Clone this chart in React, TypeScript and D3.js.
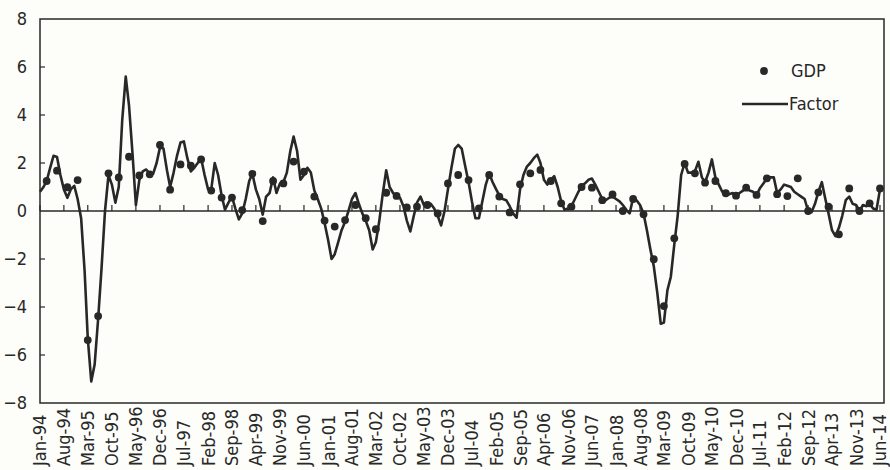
import React, { useEffect } from 'react';
import * as d3 from 'd3';

// monthly factor, Jan-94 .. Jun-14
const factor = [
  0.8, 1.0, 1.25, 1.8, 2.3, 2.25, 1.5, 0.9, 0.55, 0.9, 1.05, 0.5,
  -0.3, -2.5, -5.3, -7.1, -6.4, -4.5, -2.4, 0.0, 1.5, 1.1, 0.35, 1.0,
  3.8, 5.6, 4.4, 2.4, 0.25, 1.3, 1.65, 1.73, 1.55, 1.55, 2.0, 2.65,
  2.6, 1.7, 1.0, 1.6, 2.3, 2.85, 2.9, 2.2, 1.65, 1.8, 2.0, 2.2,
  1.5, 0.9, 0.9, 2.0, 1.5, 0.65, 0.05, 0.35, 0.6, 0.1, -0.35, -0.1,
  0.5, 1.25, 1.55, 0.9, 0.5, -0.15, 0.6, 0.75, 1.4, 0.75, 1.15, 1.2,
  1.6, 2.5, 3.1, 2.5, 1.3, 1.5, 1.8, 1.6, 0.85, 0.5, 0.1, -0.5,
  -1.2, -2.0, -1.8, -1.3, -0.8, -0.45, 0.0, 0.5, 0.75, 0.3, -0.1, -0.4,
  -0.8, -1.6, -1.3, -0.4, 0.7, 1.7, 1.0, 0.75, 0.6, 0.55, 0.2, -0.4,
  -0.85, -0.2, 0.35, 0.6, 0.25, 0.25, 0.3, 0.1, -0.2, -0.6, 0.0, 0.9,
  1.8, 2.6, 2.75, 2.6, 1.9, 1.2, 0.4, -0.3, -0.3, 0.4, 1.1, 1.55,
  1.2, 0.9, 0.65, 0.5, 0.45, 0.2, -0.1, -0.28, 0.9, 1.5, 1.85, 2.0,
  2.2, 2.35, 2.0, 1.3, 1.1, 1.3, 1.45, 1.0, 0.4, 0.05, 0.1, 0.2,
  0.5, 0.8, 1.05, 1.15, 1.3, 1.35, 1.1, 0.8, 0.5, 0.45, 0.55, 0.6,
  0.5, 0.4, 0.25, 0.05, -0.1, 0.55, 0.45, 0.25, -0.1, -0.8, -1.6, -2.3,
  -3.4, -4.7, -4.65, -3.3, -2.75, -1.4, -0.2, 1.5, 2.0, 1.6, 1.6, 1.65,
  2.05, 1.4, 1.2, 1.6, 2.15, 1.4, 1.1, 0.8, 0.75, 0.7, 0.75, 0.6,
  0.75, 0.85, 1.0, 0.85, 0.8, 0.65, 0.95, 1.15, 1.35, 1.4, 1.4, 0.75,
  0.9, 1.1, 1.05, 1.0, 0.8, 0.7, 0.6, 0.5, 0.0, -0.05, 0.3, 0.8,
  1.2, 0.5, -0.1, -0.8, -1.05, -0.7, -0.2, 0.45, 0.6, 0.3, 0.25, 0.0,
  0.25, 0.2, 0.3, 0.1, 0.05, 0.9,
];

// quarterly GDP, Mar-94 .. Jun-14 (quarter-end months)
const gdp = [
  1.25, 1.68, 0.99, 1.29,
  -5.38, -4.38, 1.57, 1.4,
  2.26, 1.48, 1.53, 2.75,
  0.89, 1.94, 1.89, 2.15,
  0.85, 0.56, 0.56, 0.04,
  1.55, -0.42, 1.25, 1.15,
  2.06, 1.64, 0.6, -0.4,
  -0.65, -0.38, 0.25, -0.3,
  -0.76, 0.76, 0.63, 0.15,
  0.18, 0.25, -0.1, 1.15,
  1.5, 1.29, 0.11, 1.5,
  0.6, -0.06, 1.11, 1.57,
  1.71, 1.25, 0.32, 0.18,
  1.0, 0.97, 0.45, 0.69,
  0.0, 0.5, -0.14, -2.01,
  -3.96, -1.14, 1.96, 1.57,
  1.18, 1.25, 0.74, 0.64,
  0.97, 0.67, 1.36, 0.7,
  0.62, 1.36, 0.0, 0.78,
  0.18, -0.97, 0.94, 0.0,
  0.32, 0.94,
];

const tickLabels = [
  'Jan-94', 'Aug-94', 'Mar-95', 'Oct-95', 'May-96', 'Dec-96', 'Jul-97', 'Feb-98', 'Sep-98',
  'Apr-99', 'Nov-99', 'Jun-00', 'Jan-01', 'Aug-01', 'Mar-02', 'Oct-02', 'May-03', 'Dec-03',
  'Jul-04', 'Feb-05', 'Sep-05', 'Apr-06', 'Nov-06', 'Jun-07', 'Jan-08', 'Aug-08', 'Mar-09',
  'Oct-09', 'May-10', 'Dec-10', 'Jul-11', 'Feb-12', 'Sep-12', 'Apr-13', 'Nov-13', 'Jun-14',
];

const yTicks = [8, 6, 4, 2, 0, -2, -4, -6, -8];

const start = new Date(1994, 0, 1);
const monthDate = (i: number) => d3.timeMonth.offset(start, i);

const W = 890;
const H = 470;
const left = 40;
const right = 884;
const top = 19;
const bottom = 403;
const ink = '#282828';
const font = '"Liberation Sans Narrow", "DejaVu Sans Condensed", "Roboto Condensed", "Arial Narrow", sans-serif';

export default function App() {
  useEffect(() => {
    document.body.style.margin = '0';
  }, []);

  const x = d3.scaleTime().domain([start, monthDate(245)]).range([left, 880]);
  const y = d3.scaleLinear().domain([-8, 8]).range([bottom, top]);

  const line = d3.line<number>()
    .x((_, i) => x(monthDate(i)))
    .y(d => y(d));

  const tickDates = tickLabels.map((_, i) => monthDate(i * 7));

  return (
    <svg width={W} height={H} style={{ display: 'block', background: '#fdfdfa' }} fontFamily={font}>
      <rect x={left} y={top} width={right - left} height={bottom - top} fill="none" stroke={ink} strokeWidth={1.5} />
      <line x1={left} x2={right} y1={y(0)} y2={y(0)} stroke={ink} strokeWidth={1.3} />
      {yTicks.filter(t => t !== 8 && t !== -8 && t !== 0).map(t => (
        <line key={t} x1={left} x2={left + 5} y1={y(t)} y2={y(t)} stroke={ink} strokeWidth={1.2} />
      ))}
      {yTicks.map(t => (
        <text key={t} x={27} y={y(t)} dy="0.36em" textAnchor="end" fontSize={18} fill={ink}>
          {t < 0 ? '\u2212' + Math.abs(t) : t}
        </text>
      ))}
      {tickDates.map((d, i) => (
        <line key={i} x1={x(d)} x2={x(d)} y1={y(0)} y2={y(0) - 6} stroke={ink} strokeWidth={1.2} />
      ))}
      {tickDates.map((d, i) => (
        <text key={i} transform={`translate(${x(d)},466) rotate(-90)`} dy="0.36em" fontSize={18} fill={ink}>
          {tickLabels[i]}
        </text>
      ))}
      <path d={line(factor) || ''} fill="none" stroke={ink} strokeWidth={2.6} strokeLinejoin="round" />
      {gdp.map((v, i) => (
        <circle key={i} cx={x(monthDate(2 + i * 3))} cy={y(v)} r={3.9} fill={ink} />
      ))}
      <circle cx={764} cy={71} r={3.9} fill={ink} />
      <text x={791} y={77} fontSize={18} fill={ink}>GDP</text>
      <line x1={742} x2={788} y1={104} y2={104} stroke={ink} strokeWidth={2.6} />
      <text x={789} y={110} fontSize={18} fill={ink}>Factor</text>
    </svg>
  );
}
